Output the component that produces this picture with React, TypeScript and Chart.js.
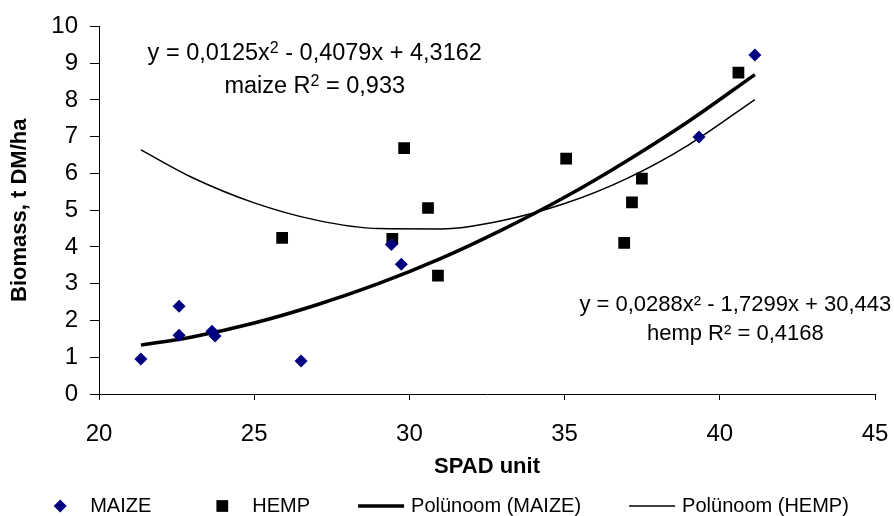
import React, { useEffect, useRef } from "react";
import { Chart, registerables } from "chart.js";

Chart.register(...registerables);

// ---- data ----
const maizeSpad = [21.35, 22.58, 22.58, 23.64, 23.74, 26.51, 29.42, 29.74, 39.33, 41.13];
const maizeBiomass = [0.95, 2.39, 1.6, 1.71, 1.58, 0.9, 4.07, 3.53, 6.99, 9.22];

const hempSpad = [25.9, 29.45, 29.83, 30.6, 30.92, 35.05, 36.92, 37.17, 37.49, 40.6];
const hempBiomass = [4.25, 4.22, 6.69, 5.06, 3.22, 6.4, 4.11, 5.21, 5.86, 8.74];

// trend lines as drawn in the picture
const trendSpad = [21.35, 23, 25, 27, 29, 31, 33, 35, 37, 39, 41.13];
const maizeTrend = [1.33, 1.55, 1.93, 2.42, 3.0, 3.68, 4.47, 5.35, 6.34, 7.42, 8.69];
const hempTrend = [6.64, 5.89, 5.2, 4.73, 4.5, 4.49, 4.72, 5.18, 5.86, 6.78, 8.01];

const xRange = [20, 45];
const xStep = 5;
const yRange = [0, 10];
const yStep = 1;

const seriesLabels = ["MAIZE", "HEMP", "Polünoom (MAIZE)", "Polünoom (HEMP)"];
const xTitle = "SPAD unit";
const yTitle = "Biomass, t DM/ha";

// rich text: [text, isSuperscript]
const maizeEquation: [string, boolean][] = [["y = 0,0125x", false], ["2", true], [" - 0,4079x + 4,3162", false]];
const maizeR2: [string, boolean][] = [["maize R", false], ["2", true], [" = 0,933", false]];
const hempEquation: [string, boolean][] = [["y = 0,0288x² - 1,7299x + 30,443", false]];
const hempR2: [string, boolean][] = [["hemp R² = 0,4168", false]];

const FONT = "'Liberation Sans', Arial, Helvetica, sans-serif";

function drawRich(ctx: CanvasRenderingContext2D, parts: [string, boolean][], cx: number, baseline: number, size: number) {
  const supSize = Math.round(size * 0.68);
  let total = 0;
  const widths = parts.map(([t, sup]) => {
    ctx.font = `${sup ? supSize : size}px ${FONT}`;
    const w = ctx.measureText(t).width;
    total += w;
    return w;
  });
  let x = cx - total / 2;
  ctx.textAlign = "left";
  ctx.textBaseline = "alphabetic";
  parts.forEach(([t, sup], i) => {
    ctx.font = `${sup ? supSize : size}px ${FONT}`;
    ctx.fillText(t, x, sup ? baseline - size * 0.3 : baseline);
    x += widths[i];
  });
}

const overlayPlugin = {
  id: "overlay",
  afterDraw(chart: any) {
    const ctx: CanvasRenderingContext2D = chart.ctx;
    const area = chart.chartArea;
    const w = area.right - area.left;
    ctx.save();
    ctx.fillStyle = "#000";
    // regression labels
    const cx1 = area.left + w * 0.278;
    drawRich(ctx, maizeEquation, cx1, area.top + 34, 23.5);
    drawRich(ctx, maizeR2, cx1, area.top + 67, 23.5);
    const cx2 = area.left + w * 0.82;
    drawRich(ctx, hempEquation, cx2, area.top + 285, 22);
    drawRich(ctx, hempR2, cx2, area.top + 314, 22);

    // legend
    const ds = chart.data.datasets;
    const fontSize = 20;
    ctx.font = `${fontSize}px ${FONT}`;
    const boxW = 46;
    const textGap = 7;
    const itemGap = 48;
    const widths = ds.map((d: any) => ctx.measureText(d.label).width);
    let total = 0;
    widths.forEach((tw: number, i: number) => {
      total += boxW + textGap + tw + (i < widths.length - 1 ? itemGap : 0);
    });
    let x = (chart.width - total) / 2 - 4;
    const y = chart.height - 10;
    ds.forEach((d: any, i: number) => {
      const c = x + boxW / 2;
      ctx.fillStyle = d.backgroundColor || "#000";
      ctx.strokeStyle = d.borderColor || "#000";
      if (d.showLine) {
        ctx.lineWidth = d.borderWidth;
        ctx.beginPath();
        ctx.moveTo(x, y);
        ctx.lineTo(x + boxW, y);
        ctx.stroke();
      } else if (d.pointStyle === "rectRot") {
        const r = d.pointRadius;
        ctx.beginPath();
        ctx.moveTo(c - r, y);
        ctx.lineTo(c, y - r);
        ctx.lineTo(c + r, y);
        ctx.lineTo(c, y + r);
        ctx.closePath();
        ctx.fill();
      } else {
        const h = d.pointRadius * Math.SQRT1_2;
        ctx.fillRect(c - h, y - h, 2 * h, 2 * h);
      }
      ctx.fillStyle = "#000";
      ctx.font = `${fontSize}px ${FONT}`;
      ctx.textAlign = "left";
      ctx.textBaseline = "middle";
      ctx.fillText(d.label, x + boxW + textGap, y);
      x += boxW + textGap + widths[i] + itemGap;
    });
    ctx.restore();
  },
};

export default function App() {
  const ref = useRef<HTMLCanvasElement | null>(null);

  useEffect(() => {
    if (!ref.current) return;
    const chart = new Chart(ref.current, {
      type: "scatter",
      data: {
        datasets: [
          {
            label: seriesLabels[0],
            data: maizeSpad.map((x, i) => ({ x, y: maizeBiomass[i] })),
            pointStyle: "rectRot",
            pointRadius: 6.5,
            backgroundColor: "#000080",
            borderColor: "#000080",
            borderWidth: 0,
          },
          {
            label: seriesLabels[1],
            data: hempSpad.map((x, i) => ({ x, y: hempBiomass[i] })),
            pointStyle: "rect",
            pointRadius: 8.3,
            backgroundColor: "#000000",
            borderColor: "#000000",
            borderWidth: 0,
          },
          {
            label: seriesLabels[2],
            data: trendSpad.map((x, i) => ({ x, y: maizeTrend[i] })),
            showLine: true,
            pointRadius: 0,
            borderColor: "#000000",
            backgroundColor: "#000000",
            borderWidth: 3.5,
            cubicInterpolationMode: "monotone",
            fill: false,
          },
          {
            label: seriesLabels[3],
            data: trendSpad.map((x, i) => ({ x, y: hempTrend[i] })),
            showLine: true,
            pointRadius: 0,
            borderColor: "#000000",
            backgroundColor: "#000000",
            borderWidth: 1.5,
            cubicInterpolationMode: "monotone",
            fill: false,
          },
        ],
      } as any,
      options: {
        animation: false,
        responsive: true,
        maintainAspectRatio: false,
        layout: { padding: { top: 23, right: 19, left: 0, bottom: 0 } },
        plugins: {
          legend: { display: false },
          tooltip: { enabled: false },
        },
        scales: {
          x: {
            type: "linear",
            min: xRange[0],
            max: xRange[1],
            ticks: { stepSize: xStep, color: "#000", padding: 20, font: { family: FONT, size: 24 } },
            grid: { drawOnChartArea: false, drawTicks: true, tickLength: 6, color: "#000", lineWidth: 1 },
            border: { display: true, color: "#000", width: 1 },
            title: {
              display: true,
              text: xTitle,
              color: "#000",
              font: { family: FONT, size: 22, weight: "bold" },
              padding: { top: 0, bottom: 36 },
            },
            afterFit: (s: any) => {
              s.height = 122;
              s.paddingLeft = 14;
              s.paddingRight = 14;
            },
          },
          y: {
            type: "linear",
            min: yRange[0],
            max: yRange[1],
            ticks: { stepSize: yStep, color: "#000", padding: 12, font: { family: FONT, size: 24 } },
            grid: { drawOnChartArea: false, drawTicks: true, tickLength: 9, color: "#000", lineWidth: 1 },
            border: { display: true, color: "#000", width: 1 },
            title: {
              display: true,
              text: yTitle,
              color: "#000",
              font: { family: FONT, size: 22, weight: "bold" },
              padding: { top: 7, bottom: 0 },
            },
            afterFit: (s: any) => {
              s.width = 99;
            },
          },
        },
      } as any,
      plugins: [overlayPlugin],
    });
    return () => chart.destroy();
  }, []);

  return (
    <div style={{ position: "fixed", left: 0, top: 0, width: 894, height: 516, background: "#fff" }}>
      <canvas ref={ref} />
    </div>
  );
}
